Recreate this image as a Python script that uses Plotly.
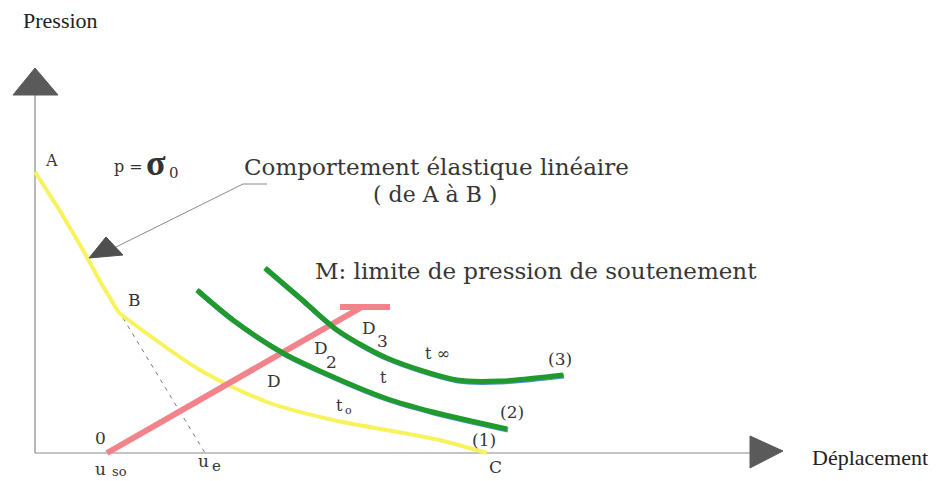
import plotly.graph_objects as go

# ---- diagram data (u = displacement, p = pressure, arbitrary units) ----
# curve (1): ground reaction curve, elastic branch A->B then plastic branch B->C
elastic_u = [0, 25, 48, 66, 84]
elastic_p = [281, 242, 203, 170, 140]
plastic_u = [84, 165, 232, 298, 400, 452]
plastic_p = [140, 83, 51, 33, 14, 0]

# support characteristic line from u_so up to the pressure limit M
support_u = [72, 327, 355]
support_p = [0, 146, 146]
support_cap_u = [305, 327]
support_cap_p = [146, 146]

# curve (2): time t
curve2_u = [162, 198, 248, 285, 350, 398, 472]
curve2_p = [163, 133, 100, 82, 55, 41, 24]

# curve (3): time t-infinity
curve3_u = [230, 265, 302, 352, 422, 465, 528]
curve3_p = [185, 155, 123, 95, 73, 72, 78]

# unloading line from B down to u_e
unload_u = [88, 170]
unload_p = [135, 0]

# callout leader for the elastic behaviour note
leader_u = [232, 208, 75]
leader_p = [269, 269, 203]
leader_head_u = [54, 71, 88]
leader_head_p = [195, 216, 198]

# axes extents
x_axis_end = 717
y_axis_end = 358

U_MIN, U_MAX = -35, 901
P_MIN, P_MAX = -28, 453

INK = "#363636"
AXIS_GREY = "#8a8a8a"
YELLOW = "#f8f35c"
PINK = "#f2838a"
GREEN = "#1f9a2b"
BLUE = "#4f8fd6"

fig = go.Figure()


def line(u, p, color, width, shape="linear", dash="solid", smoothing=1.0):
    fig.add_trace(go.Scatter(
        x=u, y=p, mode="lines",
        line=dict(color=color, width=width, shape=shape, dash=dash,
                  smoothing=smoothing),
        hoverinfo="skip", showlegend=False,
    ))


# axes
line([0, x_axis_end], [0, 0], AXIS_GREY, 1.2)
line([0, 0], [0, y_axis_end], AXIS_GREY, 1.2)

# unloading dashes and callout leader
line(unload_u, unload_p, "#7a7a7a", 1, dash="4px,5px")
line(leader_u, leader_p, "#8a8a8a", 1)

# curve (1)
line(elastic_u, elastic_p, YELLOW, 4)
line(plastic_u, plastic_p, YELLOW, 4, shape="spline", smoothing=0.8)

# support line
line(support_u, support_p, PINK, 6)
line(support_cap_u, support_cap_p, PINK, 6)

# curves (2) and (3): blue edge under green stroke
for cu, cp in ((curve2_u, curve2_p), (curve3_u, curve3_p)):
    line([v + 1 for v in cu], [v - 1 for v in cp], BLUE, 5, shape="spline",
         smoothing=0.8)
    line(cu, cp, GREEN, 5, shape="spline", smoothing=0.8)


# arrow heads (filled triangles)
def tri(us, ps, color):
    path = "M {} {} L {} {} L {} {} Z".format(us[0], ps[0], us[1], ps[1], us[2], ps[2])
    fig.add_shape(type="path", path=path, xref="x", yref="y",
                  fillcolor=color, line=dict(color=color, width=1))


tri([-22, 0, 23], [y_axis_end, y_axis_end + 27, y_axis_end], "#5a5a5a")
tri([x_axis_end - 2, x_axis_end + 31, x_axis_end - 2], [17, 2, -15], "#5a5a5a")
tri(leader_head_u, leader_head_p, "#4f4f4f")

SERIF = "DejaVu Serif"
TIMES = "Liberation Serif"


def label(text, u, p, size=16, family=SERIF, color=INK, **kw):
    fig.add_annotation(x=u, y=p, text=text, showarrow=False,
                       font=dict(family=family, size=size, color=color),
                       xanchor="center", yanchor="middle", **kw)


label("Pression", 25, 433, size=22, family=TIMES, color="#222")
label("Déplacement", 835, -4, size=22, family=TIMES, color="#222")

label("A", 16, 293, size=16)
label("p =", 93, 287, size=16)
label("<b>σ</b>", 121, 290, size=36, family=TIMES, color="#333")
label("0", 139, 280, size=15)
label("Comportement élastique linéaire", 401, 286, size=23)
label("( de A à B )", 400, 259, size=22)
label("M: limite de pression de soutenement", 501, 182, size=23)

label("B", 99, 153, size=17)
label("D", 239, 72, size=17)
label("D", 286, 105, size=17)
label("2", 296, 91, size=17)
label("D", 334, 125, size=17)
label("3", 347, 112, size=17)
label("t ∞", 402, 100, size=16)
label("t", 348, 76, size=16)
label("t", 304, 48, size=16)
label("o", 313, 43, size=11)
label("(1)", 449, 13, size=17)
label("(2)", 477, 41, size=17)
label("(3)", 525, 94, size=17)
label("C", 460, -14, size=17)
label("0", 65, 15, size=17)
label("u", 168, -8, size=17)
label("e", 181, -13, size=15)
label("u", 65, -16, size=17)
label("so", 84, -18, size=13)

fig.update_xaxes(range=[U_MIN, U_MAX], visible=False, fixedrange=True)
fig.update_yaxes(range=[P_MIN, P_MAX], visible=False, fixedrange=True)
fig.update_layout(
    width=936, height=481,
    margin=dict(l=0, r=0, t=0, b=0),
    paper_bgcolor="white", plot_bgcolor="white",
    showlegend=False,
)

fig.write_html("out.html")
